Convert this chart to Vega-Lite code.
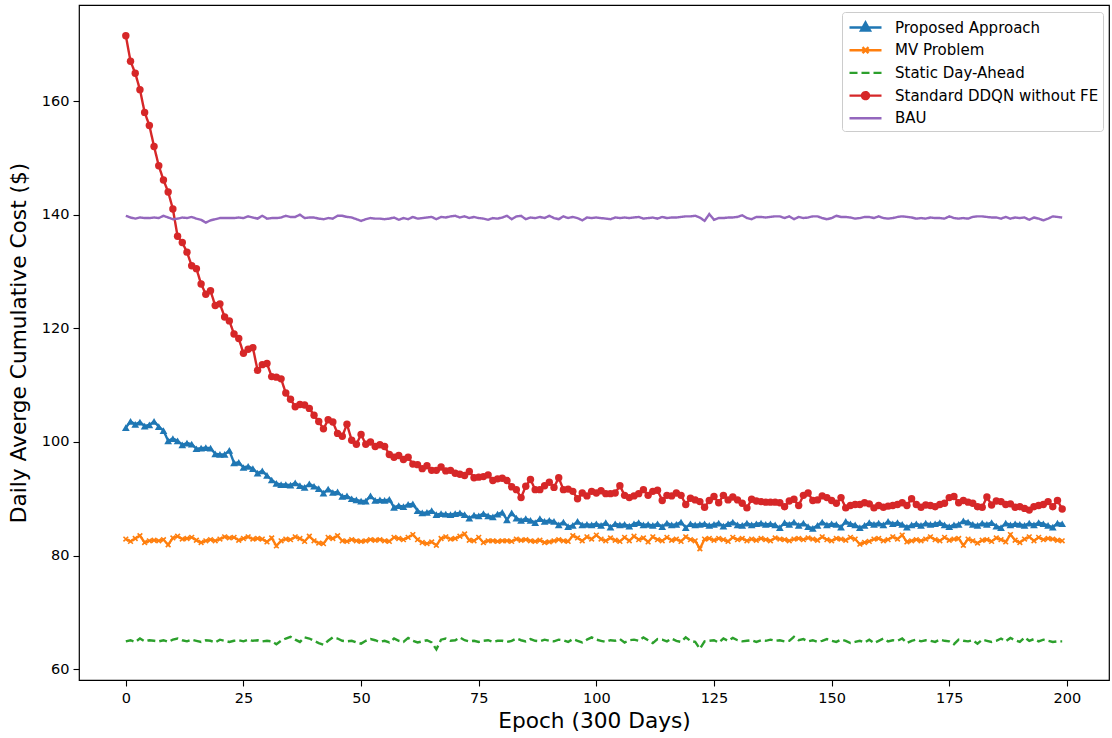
{
  "$schema": "https://vega.github.io/schema/vega-lite/v6.json",
  "width": 1030,
  "height": 675,
  "autosize": "none",
  "padding": {"left": 79, "top": 5, "right": 3, "bottom": 58},
  "background": "white",
  "config": {
    "font": "DejaVu Sans",
    "view": {"stroke": "black", "strokeWidth": 1.2},
    "axis": {
      "domain": false,
      "grid": false,
      "ticks": true,
      "tickColor": "black",
      "tickSize": 6,
      "tickWidth": 1.1,
      "labelFont": "DejaVu Sans",
      "labelFontSize": 14.5,
      "labelColor": "black",
      "labelPadding": 4,
      "titleFont": "DejaVu Sans",
      "titleFontSize": 21.7,
      "titleFontWeight": "normal",
      "titleColor": "black"
    }
  },
  "data": {
    "values": [
      {"epoch":0,"prop":102.5,"mv":82.9,"sda":64.9,"ddqn":171.5,"bau":139.8},
      {"epoch":1,"prop":103.6,"mv":82.5,"sda":65.1,"ddqn":167.0,"bau":139.5},
      {"epoch":2,"prop":103.1,"mv":83.0,"sda":64.8,"ddqn":164.9,"bau":139.3},
      {"epoch":3,"prop":103.5,"mv":83.5,"sda":65.4,"ddqn":162.0,"bau":139.5},
      {"epoch":4,"prop":102.8,"mv":82.3,"sda":64.9,"ddqn":158.0,"bau":139.4},
      {"epoch":5,"prop":103.0,"mv":82.6,"sda":65.1,"ddqn":155.7,"bau":139.4},
      {"epoch":6,"prop":103.6,"mv":82.7,"sda":65.0,"ddqn":152.0,"bau":139.5},
      {"epoch":7,"prop":102.7,"mv":82.6,"sda":64.9,"ddqn":148.6,"bau":139.4},
      {"epoch":8,"prop":102.0,"mv":82.8,"sda":65.1,"ddqn":146.1,"bau":139.8},
      {"epoch":9,"prop":100.2,"mv":81.9,"sda":64.8,"ddqn":144.0,"bau":139.5},
      {"epoch":10,"prop":100.6,"mv":83.1,"sda":65.2,"ddqn":141.0,"bau":139.2},
      {"epoch":11,"prop":100.2,"mv":83.4,"sda":65.4,"ddqn":136.2,"bau":139.3},
      {"epoch":12,"prop":99.5,"mv":82.9,"sda":65.1,"ddqn":135.1,"bau":139.5},
      {"epoch":13,"prop":99.8,"mv":83.0,"sda":64.9,"ddqn":133.4,"bau":139.4},
      {"epoch":14,"prop":99.6,"mv":83.2,"sda":65.2,"ddqn":131.0,"bau":139.6},
      {"epoch":15,"prop":98.8,"mv":82.7,"sda":65.0,"ddqn":130.5,"bau":139.3},
      {"epoch":16,"prop":98.9,"mv":82.3,"sda":64.8,"ddqn":127.8,"bau":139.1},
      {"epoch":17,"prop":99.0,"mv":82.6,"sda":65.1,"ddqn":126.0,"bau":138.6},
      {"epoch":18,"prop":98.9,"mv":82.8,"sda":65.0,"ddqn":126.6,"bau":139.0},
      {"epoch":19,"prop":97.9,"mv":82.6,"sda":64.7,"ddqn":124.0,"bau":139.2},
      {"epoch":20,"prop":97.8,"mv":82.9,"sda":65.2,"ddqn":124.3,"bau":139.4},
      {"epoch":21,"prop":97.8,"mv":83.3,"sda":65.0,"ddqn":122.0,"bau":139.4},
      {"epoch":22,"prop":98.5,"mv":83.1,"sda":64.8,"ddqn":121.3,"bau":139.4},
      {"epoch":23,"prop":96.3,"mv":83.2,"sda":65.0,"ddqn":119.0,"bau":139.4},
      {"epoch":24,"prop":96.4,"mv":82.7,"sda":65.1,"ddqn":118.2,"bau":139.5},
      {"epoch":25,"prop":95.5,"mv":83.0,"sda":64.9,"ddqn":115.6,"bau":139.4},
      {"epoch":26,"prop":95.7,"mv":83.3,"sda":65.2,"ddqn":116.3,"bau":139.7},
      {"epoch":27,"prop":95.3,"mv":82.9,"sda":65.0,"ddqn":116.6,"bau":139.5},
      {"epoch":28,"prop":94.5,"mv":83.0,"sda":65.1,"ddqn":112.6,"bau":139.3},
      {"epoch":29,"prop":94.9,"mv":82.9,"sda":64.9,"ddqn":113.6,"bau":139.8},
      {"epoch":30,"prop":94.1,"mv":82.4,"sda":65.0,"ddqn":113.8,"bau":139.3},
      {"epoch":31,"prop":93.3,"mv":83.1,"sda":64.9,"ddqn":111.5,"bau":139.4},
      {"epoch":32,"prop":92.7,"mv":81.7,"sda":64.4,"ddqn":111.4,"bau":139.4},
      {"epoch":33,"prop":92.5,"mv":82.6,"sda":65.0,"ddqn":111.1,"bau":139.5},
      {"epoch":34,"prop":92.5,"mv":82.9,"sda":65.4,"ddqn":108.6,"bau":139.8},
      {"epoch":35,"prop":92.4,"mv":82.8,"sda":65.7,"ddqn":107.5,"bau":139.6},
      {"epoch":36,"prop":92.8,"mv":83.3,"sda":65.2,"ddqn":106.2,"bau":139.6},
      {"epoch":37,"prop":92.3,"mv":83.0,"sda":64.8,"ddqn":106.6,"bau":140.0},
      {"epoch":38,"prop":92.0,"mv":82.5,"sda":65.6,"ddqn":106.5,"bau":139.4},
      {"epoch":39,"prop":92.6,"mv":83.4,"sda":65.4,"ddqn":105.9,"bau":139.5},
      {"epoch":40,"prop":92.2,"mv":82.6,"sda":65.0,"ddqn":104.7,"bau":139.5},
      {"epoch":41,"prop":91.8,"mv":82.2,"sda":64.6,"ddqn":103.6,"bau":139.3},
      {"epoch":42,"prop":91.0,"mv":82.1,"sda":64.3,"ddqn":102.3,"bau":139.2},
      {"epoch":43,"prop":91.7,"mv":83.2,"sda":65.0,"ddqn":103.9,"bau":139.4},
      {"epoch":44,"prop":91.1,"mv":83.0,"sda":65.6,"ddqn":103.5,"bau":139.3},
      {"epoch":45,"prop":91.2,"mv":83.5,"sda":65.4,"ddqn":101.5,"bau":139.8},
      {"epoch":46,"prop":90.4,"mv":82.6,"sda":65.0,"ddqn":101.0,"bau":139.8},
      {"epoch":47,"prop":90.5,"mv":82.5,"sda":64.9,"ddqn":103.1,"bau":139.6},
      {"epoch":48,"prop":90.0,"mv":82.8,"sda":65.0,"ddqn":100.3,"bau":139.5},
      {"epoch":49,"prop":89.8,"mv":82.6,"sda":64.7,"ddqn":99.6,"bau":139.2},
      {"epoch":50,"prop":89.6,"mv":82.5,"sda":64.5,"ddqn":101.3,"bau":138.9},
      {"epoch":51,"prop":89.6,"mv":82.6,"sda":65.0,"ddqn":99.6,"bau":139.2},
      {"epoch":52,"prop":90.5,"mv":82.8,"sda":65.3,"ddqn":100.0,"bau":139.4},
      {"epoch":53,"prop":89.7,"mv":82.7,"sda":65.1,"ddqn":99.2,"bau":139.3},
      {"epoch":54,"prop":89.8,"mv":82.8,"sda":64.8,"ddqn":99.5,"bau":139.3},
      {"epoch":55,"prop":89.7,"mv":82.6,"sda":65.0,"ddqn":99.2,"bau":139.2},
      {"epoch":56,"prop":89.9,"mv":82.5,"sda":64.7,"ddqn":97.8,"bau":139.3},
      {"epoch":57,"prop":88.5,"mv":83.2,"sda":65.4,"ddqn":97.3,"bau":139.5},
      {"epoch":58,"prop":88.8,"mv":83.0,"sda":65.0,"ddqn":97.6,"bau":139.1},
      {"epoch":59,"prop":88.6,"mv":82.8,"sda":64.8,"ddqn":96.9,"bau":139.4},
      {"epoch":60,"prop":89.0,"mv":83.2,"sda":65.5,"ddqn":97.3,"bau":139.2},
      {"epoch":61,"prop":89.1,"mv":83.7,"sda":65.0,"ddqn":96.1,"bau":139.6},
      {"epoch":62,"prop":87.9,"mv":82.8,"sda":64.7,"ddqn":96.0,"bau":139.3},
      {"epoch":63,"prop":87.5,"mv":82.3,"sda":64.9,"ddqn":95.3,"bau":139.4},
      {"epoch":64,"prop":87.6,"mv":82.1,"sda":65.1,"ddqn":95.8,"bau":139.5},
      {"epoch":65,"prop":87.9,"mv":82.4,"sda":64.7,"ddqn":95.0,"bau":139.6},
      {"epoch":66,"prop":87.2,"mv":81.8,"sda":63.5,"ddqn":95.0,"bau":139.2},
      {"epoch":67,"prop":87.4,"mv":83.0,"sda":65.2,"ddqn":95.6,"bau":139.6},
      {"epoch":68,"prop":87.3,"mv":83.3,"sda":65.4,"ddqn":94.9,"bau":139.5},
      {"epoch":69,"prop":87.2,"mv":82.9,"sda":65.0,"ddqn":95.0,"bau":139.7},
      {"epoch":70,"prop":87.4,"mv":83.0,"sda":65.1,"ddqn":94.5,"bau":139.8},
      {"epoch":71,"prop":87.5,"mv":83.4,"sda":65.6,"ddqn":94.3,"bau":139.5},
      {"epoch":72,"prop":87.2,"mv":83.8,"sda":65.1,"ddqn":94.1,"bau":139.7},
      {"epoch":73,"prop":86.6,"mv":82.7,"sda":64.9,"ddqn":94.8,"bau":139.4},
      {"epoch":74,"prop":87.1,"mv":82.6,"sda":65.0,"ddqn":93.7,"bau":139.6},
      {"epoch":75,"prop":87.0,"mv":83.2,"sda":64.8,"ddqn":93.8,"bau":139.4},
      {"epoch":76,"prop":87.4,"mv":82.3,"sda":65.0,"ddqn":93.9,"bau":139.3},
      {"epoch":77,"prop":87.0,"mv":82.6,"sda":65.1,"ddqn":94.2,"bau":139.1},
      {"epoch":78,"prop":86.8,"mv":82.6,"sda":64.8,"ddqn":93.2,"bau":139.4},
      {"epoch":79,"prop":87.3,"mv":82.5,"sda":65.0,"ddqn":93.5,"bau":139.3},
      {"epoch":80,"prop":87.6,"mv":82.6,"sda":65.0,"ddqn":93.6,"bau":139.5},
      {"epoch":81,"prop":86.3,"mv":82.6,"sda":64.8,"ddqn":93.2,"bau":139.8},
      {"epoch":82,"prop":87.5,"mv":82.5,"sda":65.0,"ddqn":92.1,"bau":139.2},
      {"epoch":83,"prop":86.6,"mv":82.9,"sda":65.4,"ddqn":91.6,"bau":139.7},
      {"epoch":84,"prop":86.2,"mv":82.7,"sda":65.1,"ddqn":90.2,"bau":139.8},
      {"epoch":85,"prop":86.5,"mv":82.8,"sda":64.9,"ddqn":92.2,"bau":139.2},
      {"epoch":86,"prop":86.2,"mv":82.6,"sda":65.3,"ddqn":93.4,"bau":139.5},
      {"epoch":87,"prop":85.8,"mv":82.5,"sda":65.0,"ddqn":91.6,"bau":139.4},
      {"epoch":88,"prop":86.5,"mv":82.7,"sda":64.9,"ddqn":91.6,"bau":139.6},
      {"epoch":89,"prop":86.0,"mv":82.3,"sda":65.2,"ddqn":92.3,"bau":139.4},
      {"epoch":90,"prop":86.2,"mv":82.4,"sda":65.0,"ddqn":92.9,"bau":139.8},
      {"epoch":91,"prop":86.0,"mv":82.6,"sda":64.9,"ddqn":92.0,"bau":139.4},
      {"epoch":92,"prop":85.4,"mv":82.8,"sda":65.2,"ddqn":93.7,"bau":139.2},
      {"epoch":93,"prop":85.9,"mv":82.6,"sda":65.1,"ddqn":91.6,"bau":139.7},
      {"epoch":94,"prop":85.1,"mv":82.5,"sda":64.8,"ddqn":91.7,"bau":139.4},
      {"epoch":95,"prop":85.3,"mv":83.5,"sda":65.3,"ddqn":91.3,"bau":139.6},
      {"epoch":96,"prop":86.0,"mv":83.1,"sda":65.0,"ddqn":90.0,"bau":139.4},
      {"epoch":97,"prop":85.4,"mv":82.6,"sda":64.7,"ddqn":91.0,"bau":139.0},
      {"epoch":98,"prop":85.5,"mv":83.3,"sda":65.2,"ddqn":90.5,"bau":139.5},
      {"epoch":99,"prop":85.4,"mv":82.9,"sda":65.6,"ddqn":91.3,"bau":139.4},
      {"epoch":100,"prop":85.6,"mv":83.6,"sda":65.2,"ddqn":91.0,"bau":139.5},
      {"epoch":101,"prop":85.3,"mv":82.9,"sda":65.0,"ddqn":91.4,"bau":139.4},
      {"epoch":102,"prop":85.8,"mv":82.6,"sda":64.8,"ddqn":90.9,"bau":139.3},
      {"epoch":103,"prop":85.0,"mv":83.1,"sda":65.1,"ddqn":90.9,"bau":139.2},
      {"epoch":104,"prop":85.6,"mv":82.7,"sda":65.0,"ddqn":91.0,"bau":139.5},
      {"epoch":105,"prop":85.4,"mv":82.5,"sda":65.3,"ddqn":92.3,"bau":139.4},
      {"epoch":106,"prop":85.5,"mv":83.2,"sda":64.7,"ddqn":90.6,"bau":139.5},
      {"epoch":107,"prop":85.2,"mv":82.6,"sda":65.1,"ddqn":90.2,"bau":139.4},
      {"epoch":108,"prop":85.6,"mv":83.4,"sda":65.2,"ddqn":90.5,"bau":139.5},
      {"epoch":109,"prop":85.8,"mv":82.8,"sda":65.0,"ddqn":90.9,"bau":139.6},
      {"epoch":110,"prop":85.4,"mv":83.1,"sda":65.6,"ddqn":91.6,"bau":139.3},
      {"epoch":111,"prop":85.5,"mv":82.4,"sda":65.1,"ddqn":90.6,"bau":139.4},
      {"epoch":112,"prop":85.3,"mv":83.3,"sda":64.6,"ddqn":91.3,"bau":139.5},
      {"epoch":113,"prop":85.6,"mv":82.8,"sda":65.3,"ddqn":91.5,"bau":139.3},
      {"epoch":114,"prop":85.1,"mv":82.6,"sda":65.2,"ddqn":89.7,"bau":139.6},
      {"epoch":115,"prop":85.7,"mv":83.2,"sda":64.9,"ddqn":90.6,"bau":139.4},
      {"epoch":116,"prop":85.4,"mv":82.7,"sda":65.4,"ddqn":90.5,"bau":139.5},
      {"epoch":117,"prop":85.5,"mv":82.9,"sda":65.0,"ddqn":91.0,"bau":139.5},
      {"epoch":118,"prop":85.9,"mv":82.5,"sda":64.8,"ddqn":90.6,"bau":139.6},
      {"epoch":119,"prop":84.9,"mv":83.3,"sda":65.6,"ddqn":89.0,"bau":139.7},
      {"epoch":120,"prop":85.6,"mv":82.8,"sda":65.0,"ddqn":90.1,"bau":139.7},
      {"epoch":121,"prop":85.4,"mv":82.6,"sda":64.8,"ddqn":89.8,"bau":139.8},
      {"epoch":122,"prop":85.5,"mv":81.2,"sda":63.6,"ddqn":89.5,"bau":139.5},
      {"epoch":123,"prop":85.6,"mv":82.9,"sda":64.9,"ddqn":88.5,"bau":138.9},
      {"epoch":124,"prop":85.3,"mv":83.0,"sda":65.0,"ddqn":89.7,"bau":140.1},
      {"epoch":125,"prop":85.5,"mv":82.7,"sda":65.1,"ddqn":90.4,"bau":139.1},
      {"epoch":126,"prop":85.7,"mv":83.0,"sda":64.7,"ddqn":89.3,"bau":139.4},
      {"epoch":127,"prop":85.2,"mv":82.8,"sda":65.4,"ddqn":90.6,"bau":139.4},
      {"epoch":128,"prop":85.6,"mv":82.5,"sda":65.0,"ddqn":89.8,"bau":139.5},
      {"epoch":129,"prop":85.9,"mv":83.2,"sda":65.5,"ddqn":90.3,"bau":139.5},
      {"epoch":130,"prop":85.4,"mv":82.8,"sda":65.1,"ddqn":89.8,"bau":139.6},
      {"epoch":131,"prop":85.3,"mv":83.0,"sda":64.9,"ddqn":89.2,"bau":139.9},
      {"epoch":132,"prop":85.7,"mv":82.6,"sda":65.0,"ddqn":88.4,"bau":139.4},
      {"epoch":133,"prop":85.4,"mv":82.9,"sda":65.1,"ddqn":89.9,"bau":139.2},
      {"epoch":134,"prop":85.6,"mv":82.7,"sda":64.8,"ddqn":89.6,"bau":139.6},
      {"epoch":135,"prop":85.7,"mv":83.0,"sda":65.1,"ddqn":89.5,"bau":139.6},
      {"epoch":136,"prop":85.5,"mv":82.8,"sda":65.0,"ddqn":89.4,"bau":139.5},
      {"epoch":137,"prop":85.6,"mv":82.6,"sda":65.2,"ddqn":89.4,"bau":139.6},
      {"epoch":138,"prop":85.4,"mv":83.1,"sda":65.0,"ddqn":89.4,"bau":139.7},
      {"epoch":139,"prop":84.9,"mv":82.9,"sda":65.1,"ddqn":89.3,"bau":139.7},
      {"epoch":140,"prop":85.8,"mv":82.8,"sda":64.9,"ddqn":88.6,"bau":139.4},
      {"epoch":141,"prop":85.5,"mv":82.6,"sda":65.0,"ddqn":89.6,"bau":139.7},
      {"epoch":142,"prop":85.9,"mv":82.9,"sda":65.7,"ddqn":89.9,"bau":139.2},
      {"epoch":143,"prop":85.3,"mv":83.0,"sda":65.1,"ddqn":88.8,"bau":139.6},
      {"epoch":144,"prop":85.7,"mv":82.8,"sda":65.3,"ddqn":90.6,"bau":139.4},
      {"epoch":145,"prop":85.1,"mv":83.1,"sda":64.9,"ddqn":91.0,"bau":139.5},
      {"epoch":146,"prop":84.8,"mv":82.9,"sda":65.1,"ddqn":89.7,"bau":139.7},
      {"epoch":147,"prop":85.3,"mv":82.7,"sda":64.8,"ddqn":89.8,"bau":139.7},
      {"epoch":148,"prop":85.9,"mv":83.3,"sda":65.0,"ddqn":90.5,"bau":139.4},
      {"epoch":149,"prop":85.4,"mv":82.8,"sda":65.3,"ddqn":90.2,"bau":139.2},
      {"epoch":150,"prop":85.6,"mv":82.6,"sda":65.0,"ddqn":89.7,"bau":139.4},
      {"epoch":151,"prop":85.5,"mv":83.0,"sda":64.8,"ddqn":89.2,"bau":139.8},
      {"epoch":152,"prop":85.0,"mv":82.9,"sda":65.2,"ddqn":90.2,"bau":139.6},
      {"epoch":153,"prop":86.0,"mv":82.7,"sda":65.0,"ddqn":88.4,"bau":139.6},
      {"epoch":154,"prop":85.6,"mv":83.2,"sda":64.6,"ddqn":88.8,"bau":139.5},
      {"epoch":155,"prop":85.4,"mv":82.9,"sda":64.8,"ddqn":89.0,"bau":139.3},
      {"epoch":156,"prop":84.9,"mv":82.0,"sda":65.0,"ddqn":89.0,"bau":139.4},
      {"epoch":157,"prop":85.3,"mv":82.3,"sda":64.7,"ddqn":89.3,"bau":139.6},
      {"epoch":158,"prop":85.8,"mv":82.5,"sda":65.2,"ddqn":89.1,"bau":139.6},
      {"epoch":159,"prop":85.5,"mv":82.9,"sda":64.6,"ddqn":88.4,"bau":139.4},
      {"epoch":160,"prop":85.7,"mv":83.0,"sda":65.0,"ddqn":88.8,"bau":139.7},
      {"epoch":161,"prop":85.4,"mv":82.6,"sda":65.4,"ddqn":88.5,"bau":139.4},
      {"epoch":162,"prop":86.0,"mv":82.8,"sda":64.9,"ddqn":88.7,"bau":139.3},
      {"epoch":163,"prop":85.6,"mv":83.3,"sda":65.1,"ddqn":88.8,"bau":139.4},
      {"epoch":164,"prop":85.8,"mv":82.9,"sda":65.0,"ddqn":89.0,"bau":139.6},
      {"epoch":165,"prop":85.5,"mv":83.6,"sda":65.4,"ddqn":89.3,"bau":139.7},
      {"epoch":166,"prop":85.0,"mv":82.4,"sda":64.6,"ddqn":88.8,"bau":139.6},
      {"epoch":167,"prop":85.4,"mv":82.6,"sda":65.0,"ddqn":90.0,"bau":139.5},
      {"epoch":168,"prop":85.6,"mv":82.8,"sda":65.2,"ddqn":89.0,"bau":139.3},
      {"epoch":169,"prop":85.3,"mv":82.6,"sda":64.9,"ddqn":88.5,"bau":139.4},
      {"epoch":170,"prop":85.7,"mv":82.9,"sda":65.1,"ddqn":88.9,"bau":139.3},
      {"epoch":171,"prop":85.5,"mv":83.3,"sda":65.0,"ddqn":88.8,"bau":139.5},
      {"epoch":172,"prop":85.6,"mv":82.8,"sda":64.8,"ddqn":88.6,"bau":139.4},
      {"epoch":173,"prop":85.8,"mv":82.6,"sda":65.2,"ddqn":89.0,"bau":139.4},
      {"epoch":174,"prop":85.4,"mv":83.2,"sda":65.0,"ddqn":89.2,"bau":139.3},
      {"epoch":175,"prop":85.1,"mv":82.7,"sda":64.9,"ddqn":90.2,"bau":139.7},
      {"epoch":176,"prop":85.4,"mv":82.9,"sda":64.4,"ddqn":90.4,"bau":139.4},
      {"epoch":177,"prop":85.5,"mv":83.0,"sda":65.2,"ddqn":89.3,"bau":139.3},
      {"epoch":178,"prop":86.1,"mv":81.8,"sda":65.0,"ddqn":89.7,"bau":139.4},
      {"epoch":179,"prop":85.9,"mv":82.9,"sda":64.9,"ddqn":89.4,"bau":139.3},
      {"epoch":180,"prop":85.5,"mv":82.6,"sda":65.1,"ddqn":89.2,"bau":139.6},
      {"epoch":181,"prop":85.3,"mv":82.2,"sda":64.5,"ddqn":88.6,"bau":139.7},
      {"epoch":182,"prop":85.7,"mv":82.7,"sda":65.2,"ddqn":88.5,"bau":139.7},
      {"epoch":183,"prop":85.5,"mv":82.8,"sda":65.0,"ddqn":90.3,"bau":139.6},
      {"epoch":184,"prop":85.8,"mv":82.5,"sda":64.8,"ddqn":88.9,"bau":139.5},
      {"epoch":185,"prop":85.2,"mv":83.1,"sda":65.0,"ddqn":89.6,"bau":139.5},
      {"epoch":186,"prop":84.9,"mv":82.8,"sda":65.4,"ddqn":89.5,"bau":139.3},
      {"epoch":187,"prop":85.7,"mv":82.4,"sda":64.9,"ddqn":89.0,"bau":139.6},
      {"epoch":188,"prop":85.4,"mv":83.7,"sda":65.5,"ddqn":89.1,"bau":139.3},
      {"epoch":189,"prop":85.6,"mv":82.7,"sda":65.1,"ddqn":88.5,"bau":139.5},
      {"epoch":190,"prop":85.5,"mv":82.3,"sda":64.8,"ddqn":88.6,"bau":139.4},
      {"epoch":191,"prop":85.3,"mv":82.9,"sda":65.6,"ddqn":88.3,"bau":139.5},
      {"epoch":192,"prop":85.7,"mv":83.3,"sda":65.0,"ddqn":88.0,"bau":139.1},
      {"epoch":193,"prop":85.4,"mv":82.6,"sda":65.3,"ddqn":88.6,"bau":139.5},
      {"epoch":194,"prop":85.8,"mv":83.2,"sda":64.9,"ddqn":88.8,"bau":139.3},
      {"epoch":195,"prop":85.6,"mv":82.8,"sda":65.2,"ddqn":89.0,"bau":139.0},
      {"epoch":196,"prop":85.3,"mv":83.0,"sda":65.0,"ddqn":89.5,"bau":139.3},
      {"epoch":197,"prop":85.0,"mv":82.9,"sda":64.8,"ddqn":88.6,"bau":139.7},
      {"epoch":198,"prop":85.7,"mv":82.7,"sda":64.9,"ddqn":89.7,"bau":139.6},
      {"epoch":199,"prop":85.6,"mv":82.6,"sda":64.9,"ddqn":88.2,"bau":139.5}
    ]
  },
  "transform": [
    {"fold": ["prop", "mv", "sda", "ddqn", "bau"], "as": ["series", "cost"]}
  ],
  "encoding": {
    "x": {
      "field": "epoch",
      "type": "quantitative",
      "scale": {"domain": [-9.95, 208.95], "nice": false, "zero": false},
      "axis": {"values": [0, 25, 50, 75, 100, 125, 150, 175, 200], "title": "Epoch (300 Days)", "titlePadding": 6, "labelPadding": 5}
    },
    "y": {
      "field": "cost",
      "type": "quantitative",
      "scale": {"domain": [58.1, 176.9], "nice": false, "zero": false},
      "axis": {"values": [60, 80, 100, 120, 140, 160], "title": "Daily Averge Cumulative Cost ($)", "titlePadding": 11}
    }
  },
  "layer": [
    {
      "mark": {"type": "line", "strokeWidth": 2.4, "clip": true},
      "encoding": {
        "color": {
          "field": "series",
          "type": "nominal",
          "scale": {
            "domain": ["prop", "mv", "sda", "ddqn", "bau"],
            "range": ["#1f77b4", "#ff7f0e", "#2ca02c", "#d62728", "#9467bd"]
          },
          "legend": {
            "title": null,
            "orient": "none",
            "legendX": 763,
            "legendY": 7,
            "padding": 4,
            "fillColor": "white",
            "strokeColor": "#cccccc",
            "cornerRadius": 3,
            "labelFont": "DejaVu Sans",
            "labelFontSize": 15,
            "labelColor": "black",
            "labelLimit": 400,
            "symbolSize": 400,
            "symbolStrokeWidth": 2.4,
            "symbolOffset": 8,
            "labelOffset": 18,
            "rowPadding": 2.7,
            "labelExpr": "{'prop': 'Proposed Approach', 'mv': 'MV Problem', 'sda': 'Static Day-Ahead', 'ddqn': 'Standard DDQN without FE', 'bau': 'BAU'}[datum.value]",
            "encode": {
              "symbols": {
                "update": {
                  "shape": {"signal": "datum.value === 'prop' ? 'M-1.6,0H1.6M0,-0.5L0.45,0.3L-0.45,0.3Z' : datum.value === 'mv' ? 'M-1.6,0H1.6M-0.3,-0.3L0.3,0.3M-0.3,0.3L0.3,-0.3' : datum.value === 'ddqn' ? 'M-1.6,0H1.6M0.35,0A0.35,0.35,0,1,1,-0.35,0A0.35,0.35,0,1,1,0.35,0Z' : 'M-1.6,0H1.6'"},
                  "fill": {"signal": "datum.value === 'prop' ? '#1f77b4' : datum.value === 'ddqn' ? '#d62728' : 'transparent'"},
                  "strokeDash": {"signal": "datum.value === 'sda' ? [8, 4] : [1, 0]"}
                }
              }
            }
          }
        },
        "strokeDash": {
          "field": "series",
          "type": "nominal",
          "scale": {
            "domain": ["prop", "mv", "sda", "ddqn", "bau"],
            "range": [[1, 0], [1, 0], [8, 4], [1, 0], [1, 0]]
          },
          "legend": null
        }
      }
    },
    {
      "transform": [{"filter": "datum.series === 'prop'"}],
      "mark": {"type": "point", "shape": "triangle-up", "filled": true, "size": 60, "color": "#1f77b4", "opacity": 1}
    },
    {
      "transform": [{"filter": "datum.series === 'mv'"}],
      "mark": {"type": "point", "shape": "M-1,-1L1,1M-1,1L1,-1", "filled": false, "size": 22, "stroke": "#ff7f0e", "strokeWidth": 1.6, "opacity": 1}
    },
    {
      "transform": [{"filter": "datum.series === 'ddqn'"}],
      "mark": {"type": "point", "shape": "circle", "filled": true, "size": 55, "color": "#d62728", "opacity": 1}
    }
  ]
}
